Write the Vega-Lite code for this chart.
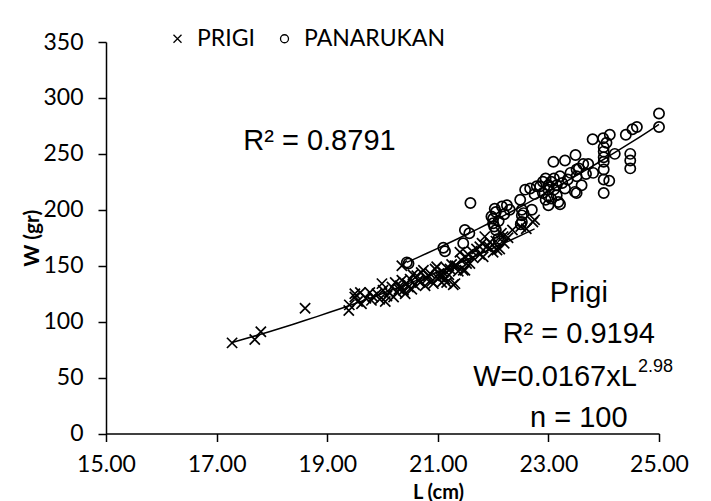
{
  "$schema": "https://vega.github.io/schema/vega-lite/v6.json",
  "width": 553,
  "height": 391.5,
  "autosize": {"type": "none"},
  "padding": {"left": 106, "top": 42, "right": 52, "bottom": 67.5},
  "background": "white",
  "config": {
    "view": {"stroke": null},
    "axis": {
      "grid": false,
      "domainColor": "black",
      "domainWidth": 1.5,
      "tickColor": "black",
      "tickWidth": 1.5,
      "tickSize": 8,
      "labelFont": "Lato",
      "labelFontSize": 23,
      "labelColor": "black",
      "labelFlush": false,
      "titleFont": "Lato",
      "titleFontSize": 21,
      "titleFontWeight": "bold",
      "titleColor": "black"
    }
  },
  "datasets": {
    "fish": [
      {"site": "PRIGI", "L": 17.28, "W": 81},
      {"site": "PRIGI", "L": 17.69, "W": 84},
      {"site": "PRIGI", "L": 17.80, "W": 91},
      {"site": "PRIGI", "L": 18.60, "W": 112},
      {"site": "PRIGI", "L": 19.39, "W": 110},
      {"site": "PRIGI", "L": 19.40, "W": 115},
      {"site": "PRIGI", "L": 19.50, "W": 122},
      {"site": "PRIGI", "L": 19.50, "W": 125},
      {"site": "PRIGI", "L": 19.55, "W": 118},
      {"site": "PRIGI", "L": 19.60, "W": 126},
      {"site": "PRIGI", "L": 19.62, "W": 116},
      {"site": "PRIGI", "L": 19.70, "W": 121},
      {"site": "PRIGI", "L": 19.77, "W": 126},
      {"site": "PRIGI", "L": 19.80, "W": 119},
      {"site": "PRIGI", "L": 19.83, "W": 122},
      {"site": "PRIGI", "L": 19.90, "W": 125},
      {"site": "PRIGI", "L": 19.95, "W": 120},
      {"site": "PRIGI", "L": 19.99, "W": 134},
      {"site": "PRIGI", "L": 20.01, "W": 128},
      {"site": "PRIGI", "L": 20.05, "W": 118},
      {"site": "PRIGI", "L": 20.08, "W": 123},
      {"site": "PRIGI", "L": 20.12, "W": 126},
      {"site": "PRIGI", "L": 20.17, "W": 131},
      {"site": "PRIGI", "L": 20.20, "W": 122},
      {"site": "PRIGI", "L": 20.23, "W": 135},
      {"site": "PRIGI", "L": 20.26, "W": 126},
      {"site": "PRIGI", "L": 20.30, "W": 129},
      {"site": "PRIGI", "L": 20.32, "W": 132},
      {"site": "PRIGI", "L": 20.35, "W": 137},
      {"site": "PRIGI", "L": 20.35, "W": 150},
      {"site": "PRIGI", "L": 20.38, "W": 128},
      {"site": "PRIGI", "L": 20.41, "W": 125},
      {"site": "PRIGI", "L": 20.44, "W": 134},
      {"site": "PRIGI", "L": 20.47, "W": 131},
      {"site": "PRIGI", "L": 20.50, "W": 138},
      {"site": "PRIGI", "L": 20.53, "W": 129},
      {"site": "PRIGI", "L": 20.55, "W": 142},
      {"site": "PRIGI", "L": 20.58, "W": 133},
      {"site": "PRIGI", "L": 20.62, "W": 141},
      {"site": "PRIGI", "L": 20.65, "W": 137},
      {"site": "PRIGI", "L": 20.68, "W": 135},
      {"site": "PRIGI", "L": 20.70, "W": 144},
      {"site": "PRIGI", "L": 20.74, "W": 146},
      {"site": "PRIGI", "L": 20.77, "W": 132},
      {"site": "PRIGI", "L": 20.80, "W": 138},
      {"site": "PRIGI", "L": 20.83, "W": 141},
      {"site": "PRIGI", "L": 20.86, "W": 143},
      {"site": "PRIGI", "L": 20.89, "W": 136},
      {"site": "PRIGI", "L": 20.92, "W": 134},
      {"site": "PRIGI", "L": 20.95, "W": 147},
      {"site": "PRIGI", "L": 20.98, "W": 149},
      {"site": "PRIGI", "L": 21.00, "W": 139},
      {"site": "PRIGI", "L": 21.02, "W": 143},
      {"site": "PRIGI", "L": 21.04, "W": 140},
      {"site": "PRIGI", "L": 21.07, "W": 135},
      {"site": "PRIGI", "L": 21.10, "W": 144},
      {"site": "PRIGI", "L": 21.10, "W": 141},
      {"site": "PRIGI", "L": 21.13, "W": 138},
      {"site": "PRIGI", "L": 21.16, "W": 135},
      {"site": "PRIGI", "L": 21.16, "W": 148},
      {"site": "PRIGI", "L": 21.20, "W": 142},
      {"site": "PRIGI", "L": 21.22, "W": 147},
      {"site": "PRIGI", "L": 21.25, "W": 151},
      {"site": "PRIGI", "L": 21.28, "W": 133},
      {"site": "PRIGI", "L": 21.31, "W": 134},
      {"site": "PRIGI", "L": 21.31, "W": 150},
      {"site": "PRIGI", "L": 21.34, "W": 150},
      {"site": "PRIGI", "L": 21.37, "W": 145},
      {"site": "PRIGI", "L": 21.40, "W": 162},
      {"site": "PRIGI", "L": 21.42, "W": 155},
      {"site": "PRIGI", "L": 21.46, "W": 146},
      {"site": "PRIGI", "L": 21.49, "W": 146},
      {"site": "PRIGI", "L": 21.50, "W": 158},
      {"site": "PRIGI", "L": 21.52, "W": 152},
      {"site": "PRIGI", "L": 21.55, "W": 160},
      {"site": "PRIGI", "L": 21.58, "W": 152},
      {"site": "PRIGI", "L": 21.62, "W": 163},
      {"site": "PRIGI", "L": 21.64, "W": 157},
      {"site": "PRIGI", "L": 21.70, "W": 165},
      {"site": "PRIGI", "L": 21.76, "W": 167},
      {"site": "PRIGI", "L": 21.76, "W": 160},
      {"site": "PRIGI", "L": 21.80, "W": 170},
      {"site": "PRIGI", "L": 21.82, "W": 158},
      {"site": "PRIGI", "L": 21.85, "W": 176},
      {"site": "PRIGI", "L": 21.88, "W": 167},
      {"site": "PRIGI", "L": 21.94, "W": 171},
      {"site": "PRIGI", "L": 21.94, "W": 166},
      {"site": "PRIGI", "L": 22.00, "W": 162},
      {"site": "PRIGI", "L": 22.05, "W": 172},
      {"site": "PRIGI", "L": 22.07, "W": 164},
      {"site": "PRIGI", "L": 22.12, "W": 165},
      {"site": "PRIGI", "L": 22.15, "W": 179},
      {"site": "PRIGI", "L": 22.18, "W": 176},
      {"site": "PRIGI", "L": 22.20, "W": 170},
      {"site": "PRIGI", "L": 22.27, "W": 175},
      {"site": "PRIGI", "L": 22.35, "W": 182},
      {"site": "PRIGI", "L": 22.50, "W": 185},
      {"site": "PRIGI", "L": 22.60, "W": 183},
      {"site": "PRIGI", "L": 22.72, "W": 189},
      {"site": "PRIGI", "L": 22.75, "W": 191},
      {"site": "PANARUKAN", "L": 20.44, "W": 153},
      {"site": "PANARUKAN", "L": 20.47, "W": 152},
      {"site": "PANARUKAN", "L": 21.10, "W": 166},
      {"site": "PANARUKAN", "L": 21.13, "W": 163},
      {"site": "PANARUKAN", "L": 21.46, "W": 170},
      {"site": "PANARUKAN", "L": 21.49, "W": 182},
      {"site": "PANARUKAN", "L": 21.57, "W": 179},
      {"site": "PANARUKAN", "L": 21.59, "W": 206},
      {"site": "PANARUKAN", "L": 21.97, "W": 194},
      {"site": "PANARUKAN", "L": 22.00, "W": 188},
      {"site": "PANARUKAN", "L": 22.00, "W": 192},
      {"site": "PANARUKAN", "L": 22.02, "W": 185},
      {"site": "PANARUKAN", "L": 22.03, "W": 201},
      {"site": "PANARUKAN", "L": 22.05, "W": 198},
      {"site": "PANARUKAN", "L": 22.05, "W": 182},
      {"site": "PANARUKAN", "L": 22.09, "W": 174},
      {"site": "PANARUKAN", "L": 22.11, "W": 172},
      {"site": "PANARUKAN", "L": 22.10, "W": 190},
      {"site": "PANARUKAN", "L": 22.16, "W": 203},
      {"site": "PANARUKAN", "L": 22.20, "W": 196},
      {"site": "PANARUKAN", "L": 22.25, "W": 204},
      {"site": "PANARUKAN", "L": 22.30, "W": 200},
      {"site": "PANARUKAN", "L": 22.49, "W": 209},
      {"site": "PANARUKAN", "L": 22.52, "W": 200},
      {"site": "PANARUKAN", "L": 22.52, "W": 195},
      {"site": "PANARUKAN", "L": 22.52, "W": 189},
      {"site": "PANARUKAN", "L": 22.50, "W": 187},
      {"site": "PANARUKAN", "L": 22.55, "W": 197},
      {"site": "PANARUKAN", "L": 22.58, "W": 218},
      {"site": "PANARUKAN", "L": 22.67, "W": 219},
      {"site": "PANARUKAN", "L": 22.70, "W": 200},
      {"site": "PANARUKAN", "L": 22.75, "W": 214},
      {"site": "PANARUKAN", "L": 22.79, "W": 221},
      {"site": "PANARUKAN", "L": 22.85, "W": 221},
      {"site": "PANARUKAN", "L": 22.90, "W": 215},
      {"site": "PANARUKAN", "L": 22.90, "W": 225},
      {"site": "PANARUKAN", "L": 22.95, "W": 209},
      {"site": "PANARUKAN", "L": 22.95, "W": 228},
      {"site": "PANARUKAN", "L": 23.00, "W": 204},
      {"site": "PANARUKAN", "L": 23.00, "W": 212},
      {"site": "PANARUKAN", "L": 23.00, "W": 218},
      {"site": "PANARUKAN", "L": 23.00, "W": 222},
      {"site": "PANARUKAN", "L": 23.05, "W": 225},
      {"site": "PANARUKAN", "L": 23.05, "W": 210},
      {"site": "PANARUKAN", "L": 23.09, "W": 243},
      {"site": "PANARUKAN", "L": 23.10, "W": 228},
      {"site": "PANARUKAN", "L": 23.10, "W": 218},
      {"site": "PANARUKAN", "L": 23.15, "W": 213},
      {"site": "PANARUKAN", "L": 23.15, "W": 222},
      {"site": "PANARUKAN", "L": 23.18, "W": 207},
      {"site": "PANARUKAN", "L": 23.21, "W": 205},
      {"site": "PANARUKAN", "L": 23.21, "W": 230},
      {"site": "PANARUKAN", "L": 23.25, "W": 224},
      {"site": "PANARUKAN", "L": 23.30, "W": 244},
      {"site": "PANARUKAN", "L": 23.30, "W": 219},
      {"site": "PANARUKAN", "L": 23.35, "W": 227},
      {"site": "PANARUKAN", "L": 23.40, "W": 233},
      {"site": "PANARUKAN", "L": 23.48, "W": 216},
      {"site": "PANARUKAN", "L": 23.49, "W": 249},
      {"site": "PANARUKAN", "L": 23.51, "W": 236},
      {"site": "PANARUKAN", "L": 23.51, "W": 230},
      {"site": "PANARUKAN", "L": 23.51, "W": 215},
      {"site": "PANARUKAN", "L": 23.55, "W": 237},
      {"site": "PANARUKAN", "L": 23.60, "W": 222},
      {"site": "PANARUKAN", "L": 23.63, "W": 241},
      {"site": "PANARUKAN", "L": 23.68, "W": 232},
      {"site": "PANARUKAN", "L": 23.72, "W": 241},
      {"site": "PANARUKAN", "L": 23.80, "W": 263},
      {"site": "PANARUKAN", "L": 23.81, "W": 233},
      {"site": "PANARUKAN", "L": 23.99, "W": 264},
      {"site": "PANARUKAN", "L": 24.00, "W": 256},
      {"site": "PANARUKAN", "L": 24.00, "W": 252},
      {"site": "PANARUKAN", "L": 24.00, "W": 247},
      {"site": "PANARUKAN", "L": 24.00, "W": 243},
      {"site": "PANARUKAN", "L": 24.00, "W": 236},
      {"site": "PANARUKAN", "L": 24.00, "W": 227},
      {"site": "PANARUKAN", "L": 24.00, "W": 215},
      {"site": "PANARUKAN", "L": 24.05, "W": 260},
      {"site": "PANARUKAN", "L": 24.10, "W": 226},
      {"site": "PANARUKAN", "L": 24.11, "W": 267},
      {"site": "PANARUKAN", "L": 24.20, "W": 250},
      {"site": "PANARUKAN", "L": 24.40, "W": 267},
      {"site": "PANARUKAN", "L": 24.48, "W": 250},
      {"site": "PANARUKAN", "L": 24.48, "W": 244},
      {"site": "PANARUKAN", "L": 24.48, "W": 237},
      {"site": "PANARUKAN", "L": 24.52, "W": 272},
      {"site": "PANARUKAN", "L": 24.60, "W": 274},
      {"site": "PANARUKAN", "L": 25.00, "W": 286},
      {"site": "PANARUKAN", "L": 25.00, "W": 274}
    ]
  },
  "layer": [
    {
      "data": {"name": "fish"},
      "transform": [{"regression": "W", "on": "L", "method": "pow", "groupby": ["site"]}],
      "mark": {"type": "line", "color": "black", "strokeWidth": 1.5},
      "encoding": {
        "x": {"field": "L", "type": "quantitative"},
        "y": {"field": "W", "type": "quantitative"},
        "detail": {"field": "site", "type": "nominal"}
      }
    },
    {
      "data": {"name": "fish"},
      "mark": {"type": "point", "filled": false, "color": "black", "strokeWidth": 1.7, "size": 105, "opacity": 1},
      "encoding": {
        "x": {
          "field": "L", "type": "quantitative",
          "scale": {"domain": [15, 25], "nice": false, "zero": false},
          "axis": {
            "values": [15, 17, 19, 21, 23, 25], "format": ".2f",
            "labelPadding": 12,
            "title": "L (cm)",
            "titleFontSize": 20,
            "titleX": 332, "titleY": 64.5, "titleAlign": "center", "titleBaseline": "alphabetic"
          }
        },
        "y": {
          "field": "W", "type": "quantitative",
          "scale": {"domain": [0, 350], "nice": false},
          "axis": {
            "values": [0, 50, 100, 150, 200, 250, 300, 350],
            "labelPadding": 15,
            "title": "W (gr)",
            "titleX": -74, "titleY": 195.75, "titleAngle": -90, "titleAlign": "center", "titleBaseline": "middle"
          }
        },
        "shape": {
          "field": "site", "type": "nominal",
          "scale": {"domain": ["PRIGI", "PANARUKAN"], "range": ["M-1,-1L1,1M-1,1L1,-1", "circle"]},
          "legend": {
            "title": null, "orient": "none", "legendX": 60, "legendY": -15, "direction": "horizontal",
            "labelFont": "Lato", "labelFontSize": 23, "labelColor": "black",
            "symbolSize": 64, "symbolStrokeWidth": 1.3, "symbolStrokeColor": "black",
            "columnPadding": 18, "labelOffset": 8
          }
        }
      }
    },
    {
      "data": {"values": [{}]},
      "mark": {"type": "text", "text": "R² = 0.8791", "font": "Liberation Sans", "fontSize": 29, "align": "center", "baseline": "middle", "color": "black"},
      "encoding": {"x": {"datum": 18.86}, "y": {"datum": 261.5}}
    },
    {
      "data": {"values": [{}]},
      "mark": {"type": "text", "text": "Prigi", "font": "Liberation Sans", "fontSize": 29, "align": "center", "baseline": "middle", "color": "black"},
      "encoding": {"x": {"datum": 23.55}, "y": {"datum": 125.6}}
    },
    {
      "data": {"values": [{}]},
      "mark": {"type": "text", "text": "R² = 0.9194", "font": "Liberation Sans", "fontSize": 29, "align": "center", "baseline": "middle", "color": "black"},
      "encoding": {"x": {"datum": 23.55}, "y": {"datum": 89}}
    },
    {
      "data": {"values": [{}]},
      "mark": {"type": "text", "text": "W=0.0167xL", "font": "Liberation Sans", "fontSize": 29, "align": "right", "baseline": "middle", "color": "black"},
      "encoding": {"x": {"datum": 24.6}, "y": {"datum": 50.5}}
    },
    {
      "data": {"values": [{}]},
      "mark": {"type": "text", "text": "2.98", "font": "Liberation Sans", "fontSize": 18, "align": "left", "baseline": "middle", "dx": 1, "dy": -10, "color": "black"},
      "encoding": {"x": {"datum": 24.6}, "y": {"datum": 50.5}}
    },
    {
      "data": {"values": [{}]},
      "mark": {"type": "text", "text": "n = 100", "font": "Liberation Sans", "fontSize": 29, "align": "center", "baseline": "middle", "color": "black"},
      "encoding": {"x": {"datum": 23.55}, "y": {"datum": 13.9}}
    }
  ]
}
